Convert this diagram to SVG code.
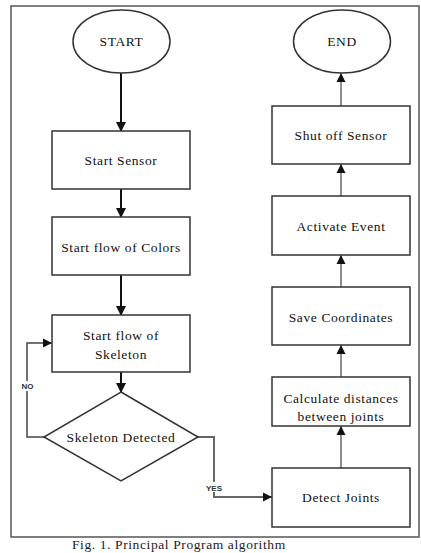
<svg xmlns="http://www.w3.org/2000/svg" width="421" height="553" viewBox="0 0 421 553">
<style>
.bg{fill:#ffffff}
.frame{fill:none;stroke:#555;stroke-width:1.5}
.box{fill:#fff;stroke:#333;stroke-width:1.5}
.t{font-family:"Liberation Serif","Times New Roman",serif;font-size:13.5px;fill:#111;text-anchor:middle;letter-spacing:0.6px}
.thick{fill:none;stroke:#111;stroke-width:2}
.thin{fill:none;stroke:#444;stroke-width:1.2}
.lbl{font-family:"Liberation Sans",Arial,sans-serif;font-size:8px;font-weight:bold;fill:#333;text-anchor:middle}
.cap{font-family:"Liberation Serif","Times New Roman",serif;font-size:13.5px;fill:#222;letter-spacing:0.6px}
</style>
<defs>
<marker id="ah" markerWidth="10" markerHeight="10" refX="9" refY="5" orient="auto" markerUnits="userSpaceOnUse">
<path d="M0,0 L10,5 L0,10 Z" fill="#111"/>
</marker>
<marker id="ahs" markerWidth="9" markerHeight="10" refX="9" refY="5" orient="auto" markerUnits="userSpaceOnUse">
<path d="M0,0.5 L9,5 L0,9.5 Z" fill="#111"/>
</marker>
</defs>
<rect class="bg" x="0" y="0" width="421" height="553"/>
<rect class="frame" x="11" y="6" width="408" height="531"/>

<g id="connectors">
<line class="thick" x1="121" y1="73" x2="121" y2="131" marker-end="url(#ah)"/>
<line class="thick" x1="121" y1="189" x2="121" y2="217" marker-end="url(#ah)"/>
<line class="thick" x1="121" y1="275" x2="121" y2="315" marker-end="url(#ah)"/>
<line class="thick" x1="121" y1="372" x2="121" y2="392" marker-end="url(#ah)"/>
<polyline class="thin" points="44,437 27,437 27,343 52,343" marker-end="url(#ahs)" style="stroke-width:1.5"/>
<polyline class="thin" points="197,437 214,437 214,497 272,497" marker-end="url(#ahs)" style="stroke:#666;stroke-width:2"/>
<line class="thin" x1="341" y1="468" x2="341" y2="426" marker-end="url(#ahs)"/>
<line class="thin" x1="341" y1="377" x2="341" y2="345" marker-end="url(#ahs)"/>
<line class="thin" x1="341" y1="287" x2="341" y2="255" marker-end="url(#ahs)"/>
<line class="thin" x1="341" y1="196" x2="341" y2="164" marker-end="url(#ahs)"/>
<line class="thin" x1="341" y1="106" x2="341" y2="73" marker-end="url(#ahs)"/>
<rect x="20" y="381" width="15" height="10" fill="#fff"/>
<text class="lbl" x="27.5" y="389">NO</text>
<rect x="205" y="482" width="18" height="10" fill="#fff"/>
<text class="lbl" x="214" y="490.5">YES</text>
</g>

<g id="start">
<ellipse class="box" cx="121.5" cy="41.5" rx="48.5" ry="31.5"/>
<text class="t" x="121.5" y="46">START</text>
</g>
<g id="end">
<ellipse class="box" cx="342" cy="41.5" rx="48.5" ry="31.5"/>
<text class="t" x="342" y="46">END</text>
</g>
<g id="start-sensor">
<rect class="box" x="52" y="131" width="138" height="58"/>
<text class="t" x="121" y="164.5">Start Sensor</text>
</g>
<g id="start-colors">
<rect class="box" x="52" y="217" width="138" height="58"/>
<text class="t" x="121" y="251.5">Start flow of Colors</text>
</g>
<g id="start-skeleton">
<rect class="box" x="52" y="315" width="138" height="57"/>
<text class="t" x="121" y="339.5">Start flow of</text>
<text class="t" x="121" y="358.5">Skeleton</text>
</g>
<g id="skeleton-detected">
<polygon class="box" points="121,392 198,437 121,481 44,437"/>
<text class="t" x="121" y="441.5">Skeleton Detected</text>
</g>
<g id="detect-joints">
<rect class="box" x="272" y="468" width="138" height="59"/>
<text class="t" x="341" y="501.5">Detect Joints</text>
</g>
<g id="calculate">
<rect class="box" x="272" y="377" width="138" height="49"/>
<text class="t" x="341" y="402.5">Calculate distances</text>
<text class="t" x="341" y="421">between joints</text>
</g>
<g id="save">
<rect class="box" x="272" y="287" width="138" height="58"/>
<text class="t" x="341" y="321.5">Save Coordinates</text>
</g>
<g id="activate">
<rect class="box" x="272" y="196" width="138" height="59"/>
<text class="t" x="341" y="230.5">Activate Event</text>
</g>
<g id="shutoff">
<rect class="box" x="272" y="106" width="138" height="58"/>
<text class="t" x="341" y="139.5">Shut off Sensor</text>
</g>
<text class="cap" x="72" y="549">Fig. 1.   Principal Program algorithm</text>
</svg>
